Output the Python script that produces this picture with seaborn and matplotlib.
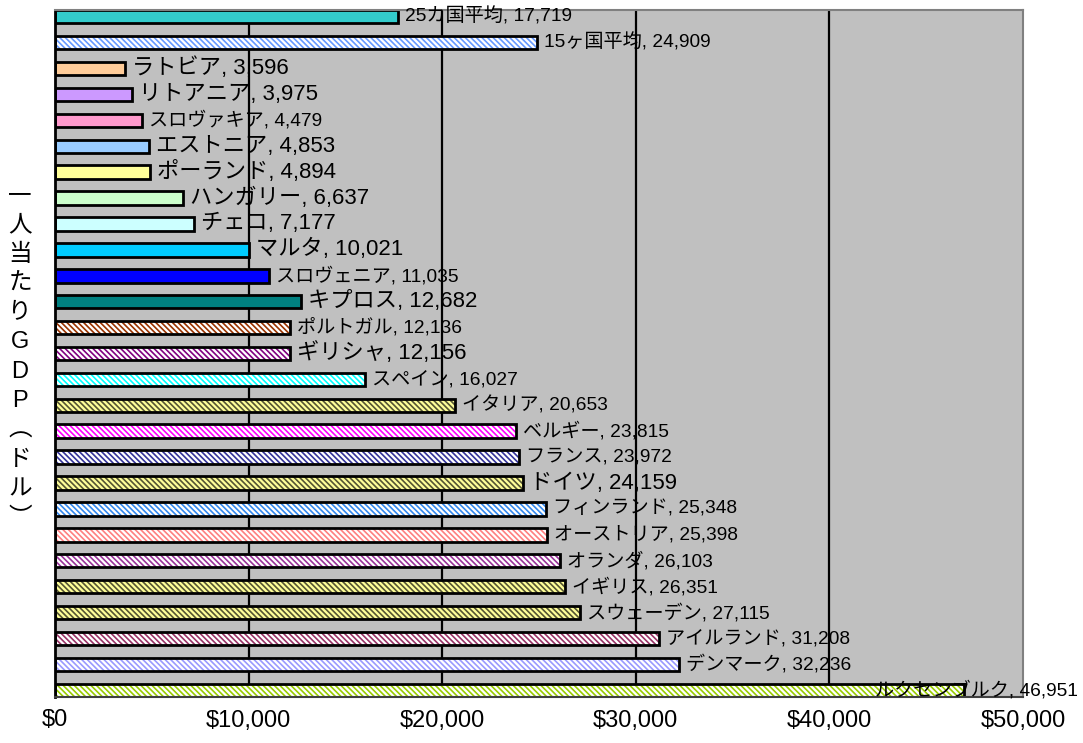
import matplotlib
matplotlib.use("Agg")
import matplotlib.pyplot as plt
import seaborn as sns
import pandas as pd

# ---------------- data ----------------
countries = ['25カ国平均', '15ヶ国平均', 'ラトビア', 'リトアニア', 'スロヴァキア', 'エストニア',
             'ポーランド', 'ハンガリー', 'チェコ', 'マルタ', 'スロヴェニア', 'キプロス',
             'ポルトガル', 'ギリシャ', 'スペイン', 'イタリア', 'ベルギー', 'フランス', 'ドイツ',
             'フィンランド', 'オーストリア', 'オランダ', 'イギリス', 'スウェーデン',
             'アイルランド', 'デンマーク', 'ルクセンブルク']
gdp_per_capita = [17719, 24909, 3596, 3975, 4479, 4853, 4894, 6637, 7177, 10021, 11035, 12682,
                  12136, 12156, 16027, 20653, 23815, 23972, 24159, 25348, 25398, 26103, 26351,
                  27115, 31208, 32236, 46951]
x_ticks = [0, 10000, 20000, 30000, 40000, 50000]
x_tick_labels = ['$0', '$10,000', '$20,000', '$30,000', '$40,000', '$50,000']
y_title = '一人当たりGDP︵ドル︶'

# ---------------- styles ----------------
face_colors = ['#33CCCC', '#FFFFFF', '#FFCC99', '#CC99FF', '#FF99CC', '#99CCFF',
               '#FFFF99', '#CCFFCC', '#CCFFFF', '#00CCFF', '#0000FF', '#008080',
               '#FFFFFF', '#FFFFFF', '#FFFFFF', '#FFFF99', '#FFFFFF', '#FFFFFF', '#FFFF99',
               '#FFFFFF', '#FFFFFF', '#FFFFFF', '#FFFF99', '#FFFF99',
               '#FFFFFF', '#FFFFFF', '#FFFFFF']
hatch_colors = [None, '#6699FF', None, None, None, None,
                None, None, None, None, None, None,
                '#993300', '#800080', '#00FFFF', '#555533', '#FF00FF', '#333399', '#555533',
                '#3388EE', '#FF8080', '#993399', '#555533', '#555533',
                '#993366', '#9999FF', '#99CC00']
big_label = [False, False, True, True, False, True, True, True, True, True, False, True,
             False, True, False, False, False, False, True,
             False, False, False, False, False, False, False, False]

plt.rcParams['hatch.linewidth'] = 1.2
sns.set_style('white')
plt.rcParams['font.family'] = ['Liberation Sans', 'Noto Sans CJK JP', 'DejaVu Sans']
plt.rcParams['text.color'] = 'black'
plt.rcParams['xtick.color'] = 'black'

df = pd.DataFrame({'country': countries, 'gdp': gdp_per_capita})

fig = plt.figure(figsize=(10.83, 7.43), dpi=100)
ax = fig.add_axes([55 / 1083, 1 - 697 / 743, (1023 - 55) / 1083, (697 - 10) / 743])
ax.set_facecolor('#C0C0C0')

BAR_W = 0.52
# hatched fill layer
sns.barplot(data=df, x='gdp', y='country', hue='country', palette=face_colors,
            order=countries, hue_order=countries, orient='h', width=BAR_W,
            legend=False, ax=ax, saturation=1, zorder=3)
for p in ax.patches:
    i = int(round(p.get_y() + p.get_height() / 2))
    p.set_facecolor(face_colors[i])
    hc = hatch_colors[i]
    if hc is not None:
        p.set_hatch('\\\\\\\\\\\\')
        p.set_edgecolor(hc)
    else:
        p.set_edgecolor(face_colors[i])
    p.set_linewidth(0)
n_fill = len(ax.patches)
# outline layer
sns.barplot(data=df, x='gdp', y='country', order=countries, orient='h', width=BAR_W,
            fill=False, color='black', linewidth=2.0, ax=ax, zorder=4)
for p in ax.patches[n_fill:]:
    p.set_edgecolor('black')
    p.set_facecolor('none')
    p.set_linewidth(2.0)

ax.set_xlim(0, 50000)
ax.set_ylim(len(countries) - 1 + BAR_W / 2, -BAR_W / 2)
ax.set_xticks(x_ticks)
ax.set_xticklabels(x_tick_labels, fontsize=17, color='black')
ax.set_yticks([])
ax.set_xlabel('')
ax.set_ylabel('')
ax.tick_params(axis='x', direction='in', length=6, width=1.5, color='black', pad=9)
for xv in x_ticks[1:-1]:
    ax.axvline(xv, color='black', linewidth=1.6, zorder=1)

for s in ['top', 'right']:
    ax.spines[s].set_color('#808080')
    ax.spines[s].set_linewidth(1.5)
ax.spines['left'].set_color('black')
ax.spines['left'].set_linewidth(2)
ax.spines['bottom'].set_color('#404040')
ax.spines['bottom'].set_linewidth(1.5)
for s in ax.spines.values():
    s.set_zorder(5)

# value labels
for i, (name, val) in enumerate(zip(countries, gdp_per_capita)):
    txt = f'{name}, {val:,}'
    fs = 16 if big_label[i] else 13.8
    if i == len(countries) - 1:
        ax.annotate(txt, xy=(50000, i), xytext=(55, 0), textcoords='offset pixels',
                    ha='right', va='center', fontsize=fs, color='black',
                    annotation_clip=False, zorder=6)
    else:
        ax.annotate(txt, xy=(val, i), xytext=(7, 0), textcoords='offset pixels',
                    ha='left', va='center', fontsize=fs, color='black', zorder=6)

# vertical y-axis title
fig.text(20 / 1083, 1 - 357 / 743, '\n'.join(y_title), ha='center', va='center',
         fontsize=17, linespacing=1.43, color='black',
         family=['Liberation Sans', 'Noto Sans CJK JP', 'DejaVu Sans'])

fig.savefig('out.png', dpi=100)
